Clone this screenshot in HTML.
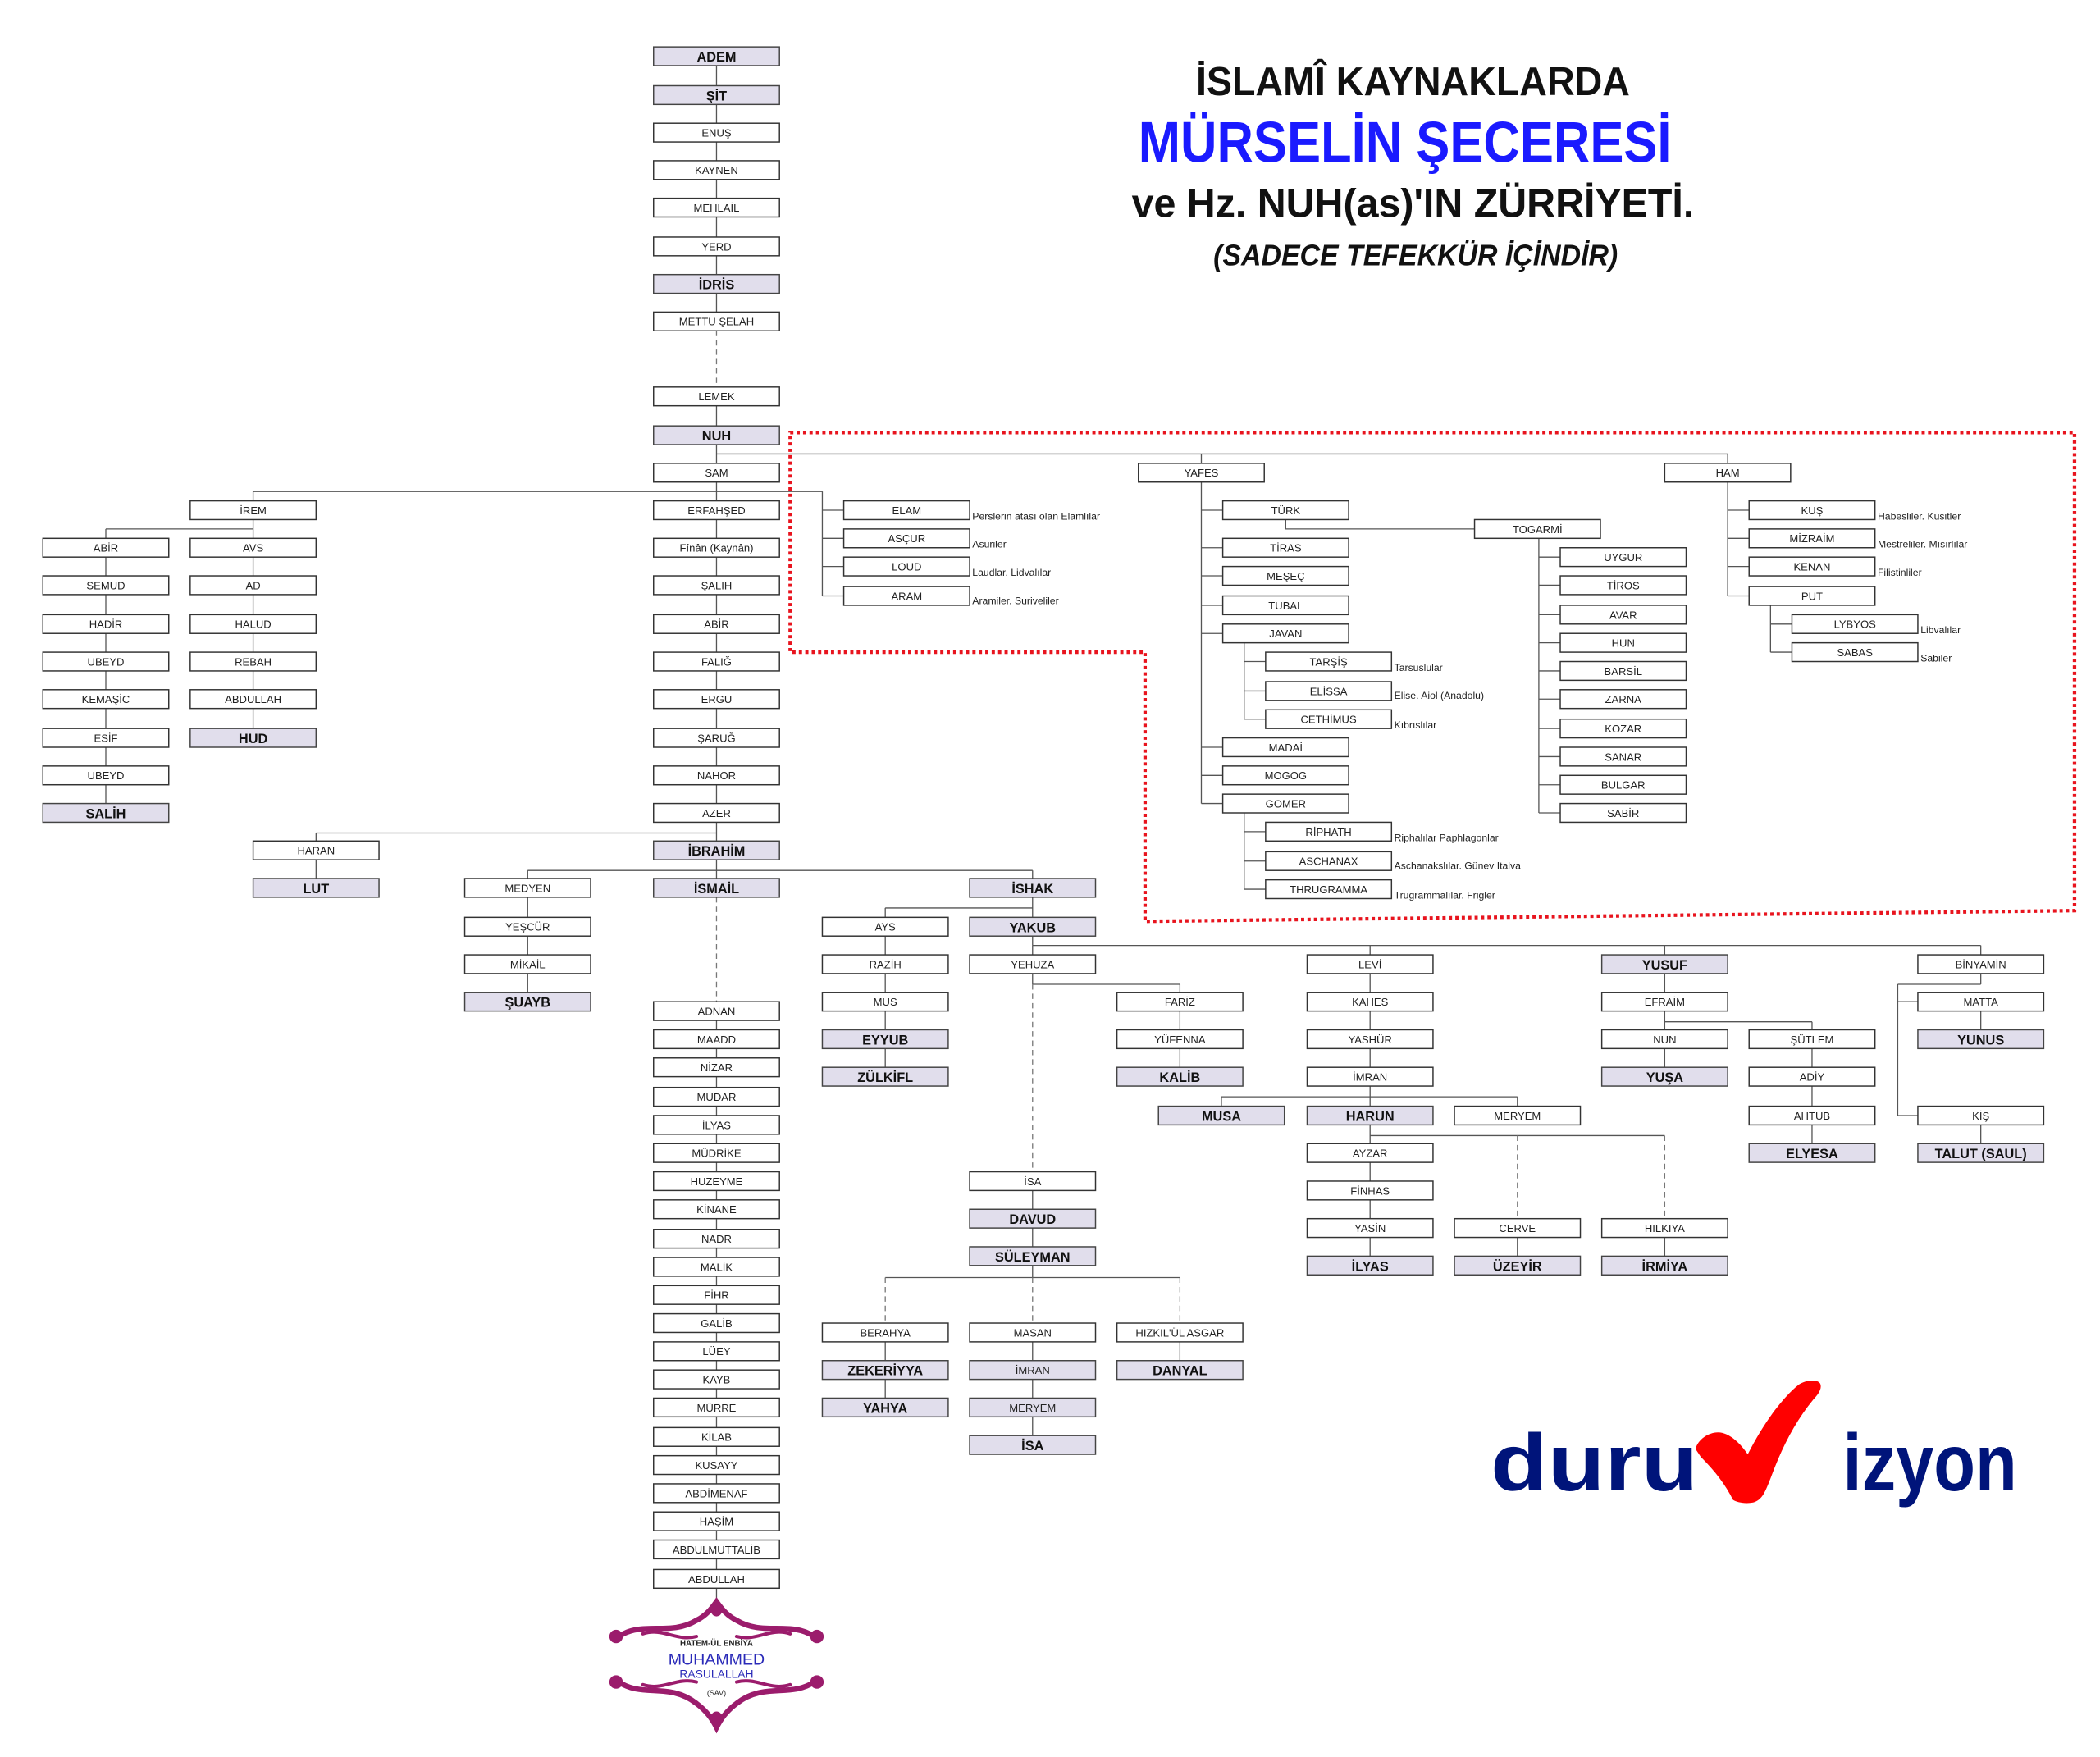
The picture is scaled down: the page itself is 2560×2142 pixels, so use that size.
<!DOCTYPE html>
<html><head><meta charset="utf-8"><style>
html,body{margin:0;padding:0;background:#fff}
svg{display:block}
.l{stroke:#555;stroke-width:.8;fill:none}
.d{stroke:#777;stroke-width:.8;fill:none;stroke-dasharray:4 3}
rect.n{fill:#fff;stroke:#333;stroke-width:.9}
rect.s{fill:#e1deec;stroke:#444;stroke-width:.9}
text{font-family:"Liberation Sans",sans-serif;text-anchor:middle}
.t{font-size:8px;fill:#222}
.tb{font-size:10px;font-weight:bold;fill:#111}
.lb{font-size:7.5px;fill:#222;text-anchor:start}
</style></head><body>
<svg width="2560" height="2142" viewBox="0 0 1568 1312" xmlns="http://www.w3.org/2000/svg">
<rect width="1568" height="1312" fill="#fff"/>
<!-- Title -->
<text x="1055" y="71" font-size="30" font-weight="bold" fill="#111" textLength="324" lengthAdjust="spacingAndGlyphs">İSLAMÎ KAYNAKLARDA</text>
<text x="1049" y="121" font-size="43" font-weight="bold" fill="#1a1aff" textLength="398" lengthAdjust="spacingAndGlyphs">MÜRSELİN ŞECERESİ</text>
<text x="1055" y="162" font-size="30" font-weight="bold" fill="#111" textLength="420" lengthAdjust="spacingAndGlyphs">ve Hz. NUH(as)'IN ZÜRRİYETİ.</text>
<text x="1057" y="198" font-size="22" font-weight="bold" font-style="italic" fill="#111" textLength="302" lengthAdjust="spacingAndGlyphs">(SADECE TEFEKKÜR İÇİNDİR)</text>

<!-- red dotted region -->
<path d="M590,323 H1549 V680 L855,688 V487 H590 Z" fill="none" stroke="#e8141e" stroke-width="2.6" stroke-dasharray="2.4 2.4"/>

<!-- connectors -->
<path class="l" d="M535,42V247M535,289V663M535,748V1198"/>
<path class="d" d="M535,247V289M535,663V748"/>
<path class="l" d="M79,395V607M79,395H189M189,367V551M189,367H614M614,367V445M614,381H630M614,402H630M614,423H630M614,445H630"/>
<path class="l" d="M535,339H1290M897,339V600M1290,339V445"/>
<path class="l" d="M897,381H913M897,409H913M897,430H913M897,452H913M897,473H913M897,558H913M897,579H913M897,600H913"/>
<path class="l" d="M929,473V537M929,494H945M929,516H945M929,537H945M929,600V664M929,621H945M929,643H945M929,664H945"/>
<path class="l" d="M960,381V395H1101M1149,395V607M1149,416H1165M1149,437H1165M1149,459H1165M1149,480H1165M1149,501H1165M1149,522H1165M1149,544H1165M1149,565H1165M1149,586H1165M1149,607H1165"/>
<path class="l" d="M1290,381H1306M1290,402H1306M1290,423H1306M1290,445H1306M1322,445V487M1322,466H1338M1322,487H1338"/>
<path class="l" d="M236,622H535M236,622V663M394,650H771M394,650V748M771,650V706M661,678H771M661,678V804"/>
<path class="l" d="M771,706H1479M771,706V735M771,735H881M881,735V804M771,875V954M661,954H881M771,988V1079M661,988V1051M881,988V1023"/>
<path class="d" d="M771,735V875M661,954V988M771,954V988M881,954V988"/>
<path class="l" d="M1023,706V945M912,819H1133M912,819V833M1133,819V833M1023,848H1243M1133,910V945M1243,910V945"/>
<path class="d" d="M1133,848V910M1243,848V910"/>
<path class="l" d="M1243,706V804M1243,763H1353M1353,763V861"/>
<path class="l" d="M1479,706V735M1417,735H1479M1417,735V833M1417,748H1432M1417,833H1432M1479,748V776M1479,833V861"/>

<!-- main column -->
<g>
<rect class="s" x="488" y="35" width="94" height="14"/><text class="tb" x="535" y="46">ADEM</text>
<rect class="s" x="488" y="64" width="94" height="14"/><text class="tb" x="535" y="75">ŞİT</text>
<rect class="n" x="488" y="92" width="94" height="14"/><text class="t" x="535" y="102">ENUŞ</text>
<rect class="n" x="488" y="120" width="94" height="14"/><text class="t" x="535" y="130">KAYNEN</text>
<rect class="n" x="488" y="148" width="94" height="14"/><text class="t" x="535" y="158">MEHLAİL</text>
<rect class="n" x="488" y="177" width="94" height="14"/><text class="t" x="535" y="187">YERD</text>
<rect class="s" x="488" y="205" width="94" height="14"/><text class="tb" x="535" y="216">İDRİS</text>
<rect class="n" x="488" y="233" width="94" height="14"/><text class="t" x="535" y="243">METTU ŞELAH</text>
<rect class="n" x="488" y="289" width="94" height="14"/><text class="t" x="535" y="299">LEMEK</text>
<rect class="s" x="488" y="318" width="94" height="14"/><text class="tb" x="535" y="329">NUH</text>
<rect class="n" x="488" y="346" width="94" height="14"/><text class="t" x="535" y="356">SAM</text>
<rect class="n" x="488" y="374" width="94" height="14"/><text class="t" x="535" y="384">ERFAHŞED</text>
<rect class="n" x="488" y="402" width="94" height="14"/><text class="t" x="535" y="412">Fînân (Kaynân)</text>
<rect class="n" x="488" y="430" width="94" height="14"/><text class="t" x="535" y="440">ŞALIH</text>
<rect class="n" x="488" y="459" width="94" height="14"/><text class="t" x="535" y="469">ABİR</text>
<rect class="n" x="488" y="487" width="94" height="14"/><text class="t" x="535" y="497">FALIĞ</text>
<rect class="n" x="488" y="515" width="94" height="14"/><text class="t" x="535" y="525">ERGU</text>
<rect class="n" x="488" y="544" width="94" height="14"/><text class="t" x="535" y="554">ŞARUĞ</text>
<rect class="n" x="488" y="572" width="94" height="14"/><text class="t" x="535" y="582">NAHOR</text>
<rect class="n" x="488" y="600" width="94" height="14"/><text class="t" x="535" y="610">AZER</text>
<rect class="s" x="488" y="628" width="94" height="14"/><text class="tb" x="535" y="639">İBRAHİM</text>
<rect class="s" x="488" y="656" width="94" height="14"/><text class="tb" x="535" y="667">İSMAİL</text>
<rect class="n" x="488" y="748" width="94" height="14"/><text class="t" x="535" y="758">ADNAN</text>
<rect class="n" x="488" y="769" width="94" height="14"/><text class="t" x="535" y="779">MAADD</text>
<rect class="n" x="488" y="790" width="94" height="14"/><text class="t" x="535" y="800">NİZAR</text>
<rect class="n" x="488" y="812" width="94" height="14"/><text class="t" x="535" y="822">MUDAR</text>
<rect class="n" x="488" y="833" width="94" height="14"/><text class="t" x="535" y="843">İLYAS</text>
<rect class="n" x="488" y="854" width="94" height="14"/><text class="t" x="535" y="864">MÜDRİKE</text>
<rect class="n" x="488" y="875" width="94" height="14"/><text class="t" x="535" y="885">HUZEYME</text>
<rect class="n" x="488" y="896" width="94" height="14"/><text class="t" x="535" y="906">KİNANE</text>
<rect class="n" x="488" y="918" width="94" height="14"/><text class="t" x="535" y="928">NADR</text>
<rect class="n" x="488" y="939" width="94" height="14"/><text class="t" x="535" y="949">MALİK</text>
<rect class="n" x="488" y="960" width="94" height="14"/><text class="t" x="535" y="970">FİHR</text>
<rect class="n" x="488" y="981" width="94" height="14"/><text class="t" x="535" y="991">GALİB</text>
<rect class="n" x="488" y="1002" width="94" height="14"/><text class="t" x="535" y="1012">LÜEY</text>
<rect class="n" x="488" y="1023" width="94" height="14"/><text class="t" x="535" y="1033">KAYB</text>
<rect class="n" x="488" y="1044" width="94" height="14"/><text class="t" x="535" y="1054">MÜRRE</text>
<rect class="n" x="488" y="1066" width="94" height="14"/><text class="t" x="535" y="1076">KİLAB</text>
<rect class="n" x="488" y="1087" width="94" height="14"/><text class="t" x="535" y="1097">KUSAYY</text>
<rect class="n" x="488" y="1108" width="94" height="14"/><text class="t" x="535" y="1118">ABDİMENAF</text>
<rect class="n" x="488" y="1129" width="94" height="14"/><text class="t" x="535" y="1139">HAŞİM</text>
<rect class="n" x="488" y="1150" width="94" height="14"/><text class="t" x="535" y="1160">ABDULMUTTALİB</text>
<rect class="n" x="488" y="1172" width="94" height="14"/><text class="t" x="535" y="1182">ABDULLAH</text>
</g>

<!-- left columns -->
<g>
<rect class="n" x="142" y="374" width="94" height="14"/><text class="t" x="189" y="384">İREM</text>
<rect class="n" x="32" y="402" width="94" height="14"/><text class="t" x="79" y="412">ABİR</text>
<rect class="n" x="32" y="430" width="94" height="14"/><text class="t" x="79" y="440">SEMUD</text>
<rect class="n" x="32" y="459" width="94" height="14"/><text class="t" x="79" y="469">HADİR</text>
<rect class="n" x="32" y="487" width="94" height="14"/><text class="t" x="79" y="497">UBEYD</text>
<rect class="n" x="32" y="515" width="94" height="14"/><text class="t" x="79" y="525">KEMAŞİC</text>
<rect class="n" x="32" y="544" width="94" height="14"/><text class="t" x="79" y="554">ESİF</text>
<rect class="n" x="32" y="572" width="94" height="14"/><text class="t" x="79" y="582">UBEYD</text>
<rect class="s" x="32" y="600" width="94" height="14"/><text class="tb" x="79" y="611">SALİH</text>
<rect class="n" x="142" y="402" width="94" height="14"/><text class="t" x="189" y="412">AVS</text>
<rect class="n" x="142" y="430" width="94" height="14"/><text class="t" x="189" y="440">AD</text>
<rect class="n" x="142" y="459" width="94" height="14"/><text class="t" x="189" y="469">HALUD</text>
<rect class="n" x="142" y="487" width="94" height="14"/><text class="t" x="189" y="497">REBAH</text>
<rect class="n" x="142" y="515" width="94" height="14"/><text class="t" x="189" y="525">ABDULLAH</text>
<rect class="s" x="142" y="544" width="94" height="14"/><text class="tb" x="189" y="555">HUD</text>
<rect class="n" x="189" y="628" width="94" height="14"/><text class="t" x="236" y="638">HARAN</text>
<rect class="s" x="189" y="656" width="94" height="14"/><text class="tb" x="236" y="667">LUT</text>
<rect class="n" x="347" y="656" width="94" height="14"/><text class="t" x="394" y="666">MEDYEN</text>
<rect class="n" x="347" y="685" width="94" height="14"/><text class="t" x="394" y="695">YEŞCÜR</text>
<rect class="n" x="347" y="713" width="94" height="14"/><text class="t" x="394" y="723">MİKAİL</text>
<rect class="s" x="347" y="741" width="94" height="14"/><text class="tb" x="394" y="752">ŞUAYB</text>
</g>

<!-- SAM sons -->
<g>
<rect class="n" x="630" y="374" width="94" height="14"/><text class="t" x="677" y="384">ELAM</text>
<rect class="n" x="630" y="395" width="94" height="14"/><text class="t" x="677" y="405">ASÇUR</text>
<rect class="n" x="630" y="416" width="94" height="14"/><text class="t" x="677" y="426">LOUD</text>
<rect class="n" x="630" y="438" width="94" height="14"/><text class="t" x="677" y="448">ARAM</text>
<text class="lb" x="726" y="388">Perslerin atası olan Elamlılar</text>
<text class="lb" x="726" y="409">Asuriler</text>
<text class="lb" x="726" y="430">Laudlar. Lidvalılar</text>
<text class="lb" x="726" y="451">Aramiler. Suriveliler</text>
</g>

<!-- YAFES -->
<g>
<rect class="n" x="850" y="346" width="94" height="14"/><text class="t" x="897" y="356">YAFES</text>
<rect class="n" x="913" y="374" width="94" height="14"/><text class="t" x="960" y="384">TÜRK</text>
<rect class="n" x="913" y="402" width="94" height="14"/><text class="t" x="960" y="412">TİRAS</text>
<rect class="n" x="913" y="423" width="94" height="14"/><text class="t" x="960" y="433">MEŞEÇ</text>
<rect class="n" x="913" y="445" width="94" height="14"/><text class="t" x="960" y="455">TUBAL</text>
<rect class="n" x="913" y="466" width="94" height="14"/><text class="t" x="960" y="476">JAVAN</text>
<rect class="n" x="945" y="487" width="94" height="14"/><text class="t" x="992" y="497">TARŞİŞ</text>
<rect class="n" x="945" y="509" width="94" height="14"/><text class="t" x="992" y="519">ELİSSA</text>
<rect class="n" x="945" y="530" width="94" height="14"/><text class="t" x="992" y="540">CETHİMUS</text>
<rect class="n" x="913" y="551" width="94" height="14"/><text class="t" x="960" y="561">MADAİ</text>
<rect class="n" x="913" y="572" width="94" height="14"/><text class="t" x="960" y="582">MOGOG</text>
<rect class="n" x="913" y="593" width="94" height="14"/><text class="t" x="960" y="603">GOMER</text>
<rect class="n" x="945" y="614" width="94" height="14"/><text class="t" x="992" y="624">RİPHATH</text>
<rect class="n" x="945" y="636" width="94" height="14"/><text class="t" x="992" y="646">ASCHANAX</text>
<rect class="n" x="945" y="657" width="94" height="14"/><text class="t" x="992" y="667">THRUGRAMMA</text>
<text class="lb" x="1041" y="501">Tarsuslular</text>
<text class="lb" x="1041" y="522">Elise. Aiol (Anadolu)</text>
<text class="lb" x="1041" y="544">Kıbrıslılar</text>
<text class="lb" x="1041" y="628">Riphalılar Paphlagonlar</text>
<text class="lb" x="1041" y="649">Aschanakslılar. Günev Italva</text>
<text class="lb" x="1041" y="671">Trugrammalılar. Frigler</text>
<rect class="n" x="1101" y="388" width="94" height="14"/><text class="t" x="1148" y="398">TOGARMİ</text>
<rect class="n" x="1165" y="409" width="94" height="14"/><text class="t" x="1212" y="419">UYGUR</text>
<rect class="n" x="1165" y="430" width="94" height="14"/><text class="t" x="1212" y="440">TİROS</text>
<rect class="n" x="1165" y="452" width="94" height="14"/><text class="t" x="1212" y="462">AVAR</text>
<rect class="n" x="1165" y="473" width="94" height="14"/><text class="t" x="1212" y="483">HUN</text>
<rect class="n" x="1165" y="494" width="94" height="14"/><text class="t" x="1212" y="504">BARSİL</text>
<rect class="n" x="1165" y="515" width="94" height="14"/><text class="t" x="1212" y="525">ZARNA</text>
<rect class="n" x="1165" y="537" width="94" height="14"/><text class="t" x="1212" y="547">KOZAR</text>
<rect class="n" x="1165" y="558" width="94" height="14"/><text class="t" x="1212" y="568">SANAR</text>
<rect class="n" x="1165" y="579" width="94" height="14"/><text class="t" x="1212" y="589">BULGAR</text>
<rect class="n" x="1165" y="600" width="94" height="14"/><text class="t" x="1212" y="610">SABİR</text>
</g>

<!-- HAM -->
<g>
<rect class="n" x="1243" y="346" width="94" height="14"/><text class="t" x="1290" y="356">HAM</text>
<rect class="n" x="1306" y="374" width="94" height="14"/><text class="t" x="1353" y="384">KUŞ</text>
<rect class="n" x="1306" y="395" width="94" height="14"/><text class="t" x="1353" y="405">MİZRAİM</text>
<rect class="n" x="1306" y="416" width="94" height="14"/><text class="t" x="1353" y="426">KENAN</text>
<rect class="n" x="1306" y="438" width="94" height="14"/><text class="t" x="1353" y="448">PUT</text>
<rect class="n" x="1338" y="459" width="94" height="14"/><text class="t" x="1385" y="469">LYBYOS</text>
<rect class="n" x="1338" y="480" width="94" height="14"/><text class="t" x="1385" y="490">SABAS</text>
<text class="lb" x="1402" y="388">Habesliler. Kusitler</text>
<text class="lb" x="1402" y="409">Mestreliler. Mısırlılar</text>
<text class="lb" x="1402" y="430">Filistinliler</text>
<text class="lb" x="1434" y="473">Libvalılar</text>
<text class="lb" x="1434" y="494">Sabiler</text>
</g>

<!-- ISHAK line -->
<g>
<rect class="s" x="724" y="656" width="94" height="14"/><text class="tb" x="771" y="667">İSHAK</text>
<rect class="n" x="614" y="685" width="94" height="14"/><text class="t" x="661" y="695">AYS</text>
<rect class="n" x="614" y="713" width="94" height="14"/><text class="t" x="661" y="723">RAZİH</text>
<rect class="n" x="614" y="741" width="94" height="14"/><text class="t" x="661" y="751">MUS</text>
<rect class="s" x="614" y="769" width="94" height="14"/><text class="tb" x="661" y="780">EYYUB</text>
<rect class="s" x="614" y="797" width="94" height="14"/><text class="tb" x="661" y="808">ZÜLKİFL</text>
<rect class="s" x="724" y="685" width="94" height="14"/><text class="tb" x="771" y="696">YAKUB</text>
<rect class="n" x="724" y="713" width="94" height="14"/><text class="t" x="771" y="723">YEHUZA</text>
<rect class="n" x="834" y="741" width="94" height="14"/><text class="t" x="881" y="751">FARİZ</text>
<rect class="n" x="834" y="769" width="94" height="14"/><text class="t" x="881" y="779">YÜFENNA</text>
<rect class="s" x="834" y="797" width="94" height="14"/><text class="tb" x="881" y="808">KALİB</text>
<rect class="n" x="724" y="875" width="94" height="14"/><text class="t" x="771" y="885">İSA</text>
<rect class="s" x="724" y="903" width="94" height="14"/><text class="tb" x="771" y="914">DAVUD</text>
<rect class="s" x="724" y="931" width="94" height="14"/><text class="tb" x="771" y="942">SÜLEYMAN</text>
<rect class="n" x="614" y="988" width="94" height="14"/><text class="t" x="661" y="998">BERAHYA</text>
<rect class="s" x="614" y="1016" width="94" height="14"/><text class="tb" x="661" y="1027">ZEKERİYYA</text>
<rect class="s" x="614" y="1044" width="94" height="14"/><text class="tb" x="661" y="1055">YAHYA</text>
<rect class="n" x="724" y="988" width="94" height="14"/><text class="t" x="771" y="998">MASAN</text>
<rect class="s" x="724" y="1016" width="94" height="14"/><text class="t" x="771" y="1026">İMRAN</text>
<rect class="s" x="724" y="1044" width="94" height="14"/><text class="t" x="771" y="1054">MERYEM</text>
<rect class="s" x="724" y="1072" width="94" height="14"/><text class="tb" x="771" y="1083">İSA</text>
<rect class="n" x="834" y="988" width="94" height="14"/><text class="t" x="881" y="998">HIZKIL'ÜL ASGAR</text>
<rect class="s" x="834" y="1016" width="94" height="14"/><text class="tb" x="881" y="1027">DANYAL</text>
</g>

<!-- LEVI -->
<g>
<rect class="n" x="976" y="713" width="94" height="14"/><text class="t" x="1023" y="723">LEVİ</text>
<rect class="n" x="976" y="741" width="94" height="14"/><text class="t" x="1023" y="751">KAHES</text>
<rect class="n" x="976" y="769" width="94" height="14"/><text class="t" x="1023" y="779">YASHÜR</text>
<rect class="n" x="976" y="797" width="94" height="14"/><text class="t" x="1023" y="807">İMRAN</text>
<rect class="s" x="865" y="826" width="94" height="14"/><text class="tb" x="912" y="837">MUSA</text>
<rect class="s" x="976" y="826" width="94" height="14"/><text class="tb" x="1023" y="837">HARUN</text>
<rect class="n" x="1086" y="826" width="94" height="14"/><text class="t" x="1133" y="836">MERYEM</text>
<rect class="n" x="976" y="854" width="94" height="14"/><text class="t" x="1023" y="864">AYZAR</text>
<rect class="n" x="976" y="882" width="94" height="14"/><text class="t" x="1023" y="892">FİNHAS</text>
<rect class="n" x="976" y="910" width="94" height="14"/><text class="t" x="1023" y="920">YASİN</text>
<rect class="s" x="976" y="938" width="94" height="14"/><text class="tb" x="1023" y="949">İLYAS</text>
<rect class="n" x="1086" y="910" width="94" height="14"/><text class="t" x="1133" y="920">CERVE</text>
<rect class="s" x="1086" y="938" width="94" height="14"/><text class="tb" x="1133" y="949">ÜZEYİR</text>
<rect class="n" x="1196" y="910" width="94" height="14"/><text class="t" x="1243" y="920">HILKIYA</text>
<rect class="s" x="1196" y="938" width="94" height="14"/><text class="tb" x="1243" y="949">İRMİYA</text>
</g>

<!-- YUSUF / BINYAMIN -->
<g>
<rect class="s" x="1196" y="713" width="94" height="14"/><text class="tb" x="1243" y="724">YUSUF</text>
<rect class="n" x="1196" y="741" width="94" height="14"/><text class="t" x="1243" y="751">EFRAİM</text>
<rect class="n" x="1196" y="769" width="94" height="14"/><text class="t" x="1243" y="779">NUN</text>
<rect class="s" x="1196" y="797" width="94" height="14"/><text class="tb" x="1243" y="808">YUŞA</text>
<rect class="n" x="1306" y="769" width="94" height="14"/><text class="t" x="1353" y="779">ŞÜTLEM</text>
<rect class="n" x="1306" y="797" width="94" height="14"/><text class="t" x="1353" y="807">ADİY</text>
<rect class="n" x="1306" y="826" width="94" height="14"/><text class="t" x="1353" y="836">AHTUB</text>
<rect class="s" x="1306" y="854" width="94" height="14"/><text class="tb" x="1353" y="865">ELYESA</text>
<rect class="n" x="1432" y="713" width="94" height="14"/><text class="t" x="1479" y="723">BİNYAMİN</text>
<rect class="n" x="1432" y="741" width="94" height="14"/><text class="t" x="1479" y="751">MATTA</text>
<rect class="s" x="1432" y="769" width="94" height="14"/><text class="tb" x="1479" y="780">YUNUS</text>
<rect class="n" x="1432" y="826" width="94" height="14"/><text class="t" x="1479" y="836">KİŞ</text>
<rect class="s" x="1432" y="854" width="94" height="14"/><text class="tb" x="1479" y="865">TALUT (SAUL)</text>
</g>

<!-- Muhammed ornament -->
<g fill="none" stroke="#9b1c6c" stroke-linecap="round">
<path d="M462,1222 C480,1210 500,1222 520,1210 C528,1206 532,1200 535,1196 C538,1200 542,1206 550,1210 C570,1222 590,1210 608,1222" stroke-width="4"/>
<path d="M462,1256 C480,1268 500,1256 520,1272 C528,1278 532,1284 535,1290 C538,1284 542,1278 550,1272 C570,1256 590,1268 608,1256" stroke-width="4"/>
<path d="M480,1220 C495,1215 505,1226 520,1222 M590,1220 C575,1215 565,1226 550,1222 M480,1258 C495,1263 505,1252 520,1256 M590,1258 C575,1263 565,1252 550,1256" stroke-width="2.5"/>
</g>
<g fill="#9b1c6c">
<circle cx="460" cy="1222" r="5"/><circle cx="610" cy="1222" r="5"/>
<circle cx="460" cy="1256" r="5"/><circle cx="610" cy="1256" r="5"/>
<circle cx="535" cy="1203" r="4"/><circle cx="535" cy="1282" r="4"/>
</g>
<text x="535" y="1229" font-size="6" font-weight="bold" fill="#222">HATEM-ÜL ENBİYA</text>
<text x="535" y="1243" font-size="12" fill="#2a2ab8">MUHAMMED</text>
<text x="535" y="1253" font-size="8.5" fill="#2a2ab8">RASULALLAH</text>
<text x="535" y="1266" font-size="5.5" fill="#222">(SAV)</text>

<!-- duruvizyon logo -->
<text x="1113" y="1113" font-size="60" font-weight="bold" fill="#00147a" style="text-anchor:start" textLength="155" lengthAdjust="spacingAndGlyphs">duru</text>
<text x="1376" y="1113" font-size="60" font-weight="bold" fill="#00147a" style="text-anchor:start" textLength="130" lengthAdjust="spacingAndGlyphs">izyon</text>
<path d="M1266,1082 C1268,1074 1278,1068 1286,1070 C1294,1072 1301,1080 1305,1086 C1318,1060 1333,1042 1343,1034 C1349,1030 1357,1030 1359,1033 C1361,1037 1357,1042 1354,1045 C1340,1062 1330,1082 1322,1104 C1318,1114 1316,1120 1309,1122 C1303,1123 1297,1122 1294,1120 C1288,1108 1280,1098 1270,1088 Z" fill="#ff0000"/>
</svg>
</body></html>
